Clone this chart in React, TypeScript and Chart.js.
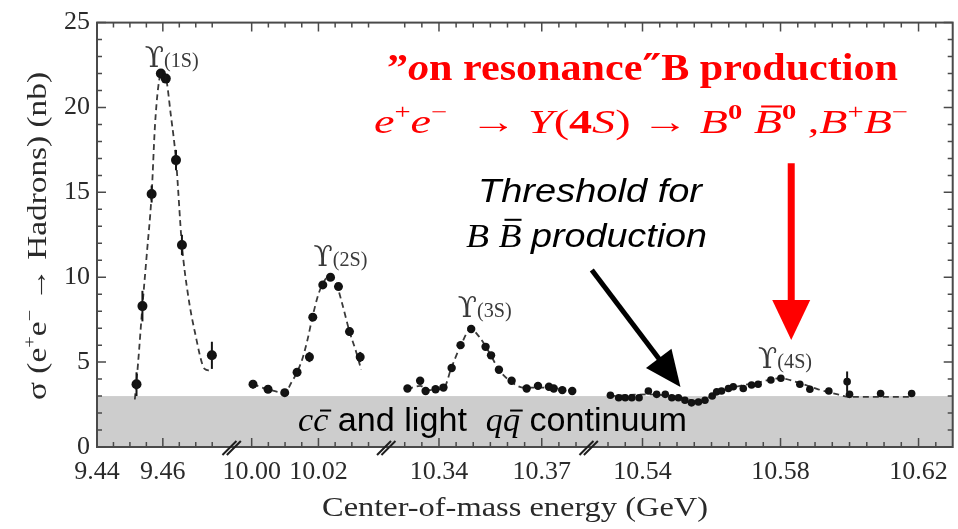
import React, { useEffect, useRef } from "react";
import { Chart, registerables } from "chart.js";

Chart.register(...registerables);

const SERIF = "'Liberation Serif', 'Times New Roman', serif";
const SANS = "'Liberation Sans', Arial, sans-serif";
const DJV = "'DejaVu Serif', serif";

// ---------- broken x axis: four energy windows (GeV) and their relative widths
const SEG_START = [9.44, 9.994, 10.3246, 10.5244];
const SEG_END = [9.4809, 10.0403, 10.3837, 10.6299];
const SEG_WIDTH = [135, 155, 203, 365];
const MINOR_STEP = 0.005;

const X_TICK_VALUES = [9.44, 9.46, 10.0, 10.02, 10.34, 10.37, 10.54, 10.58, 10.62];
const X_TICK_LABELS = ["9.44", "9.46", "10.00", "10.02", "10.34", "10.37", "10.54", "10.58", "10.62"];
const Y_MIN = 0;
const Y_MAX = 25;
const Y_STEP = 5;
const CONTINUUM_LEVEL = 3.0;

// ---------- Υ(1S)
const E_1S = [9.452, 9.4538, 9.4566, 9.4594, 9.4609, 9.464, 9.4658, 9.4749];
const S_1S = [3.7, 8.3, 14.9, 22.0, 21.7, 16.9, 11.9, 5.4];
const ERR_1S = [0.7, 0.9, 0.5, 0.2, 0.2, 0.6, 0.6, 0.8];
const FIT_E_1S = [9.4515, 9.4525, 9.4538, 9.4551, 9.4566, 9.4576, 9.4586, 9.4597, 9.4609, 9.4624, 9.464, 9.4658, 9.4677, 9.4697, 9.4727, 9.4742];
const FIT_S_1S = [2.8, 5.0, 8.3, 11.3, 14.9, 18.9, 21.2, 22.1, 21.8, 19.6, 16.9, 11.9, 8.9, 6.8, 4.6, 4.5];

// ---------- Υ(2S)
const E_2S = [10.0004, 10.0049, 10.0099, 10.0136, 10.0173, 10.0183, 10.0213, 10.0236, 10.026, 10.0293, 10.0325];
const S_2S = [3.7, 3.4, 3.2, 4.4, 5.3, 7.65, 9.55, 10.0, 9.45, 6.8, 5.3];
const ERR_2S = [0.25, 0.15, 0.15, 0.25, 0.3, 0.2, 0.2, 0.15, 0.2, 0.25, 0.3];
const FIT_E_2S = [10.0003, 10.0048, 10.0099, 10.0119, 10.0137, 10.0152, 10.0167, 10.0182, 10.02, 10.0218, 10.0233, 10.0251, 10.0269, 10.0293, 10.0313, 10.0328];
const FIT_S_2S = [3.7, 3.4, 3.2, 3.8, 4.45, 5.2, 6.3, 7.65, 9.0, 9.8, 10.05, 9.75, 8.6, 6.8, 5.6, 4.55];

// ---------- Υ(3S)
const E_3S = [10.3308, 10.3345, 10.3361, 10.339, 10.3413, 10.3437, 10.3463, 10.3494, 10.3536, 10.3552, 10.3575, 10.3612, 10.3656, 10.3689, 10.3721, 10.3735, 10.376, 10.3789];
const S_3S = [3.45, 3.9, 3.3, 3.4, 3.5, 4.65, 6.0, 6.95, 5.9, 5.4, 4.55, 3.9, 3.45, 3.6, 3.55, 3.45, 3.35, 3.3];
const ERR_3S = [0.15, 0.2, 0.15, 0.15, 0.15, 0.15, 0.15, 0.1, 0.15, 0.2, 0.15, 0.15, 0.1, 0.1, 0.1, 0.1, 0.1, 0.1];
const FIT_E_3S = [10.3307, 10.3345, 10.3371, 10.3415, 10.3435, 10.3464, 10.3493, 10.3517, 10.3546, 10.3575, 10.361, 10.3648, 10.3692, 10.3735, 10.3787];
const FIT_S_3S = [3.4, 3.6, 3.35, 3.5, 4.6, 6.0, 6.95, 6.5, 5.6, 4.55, 3.85, 3.5, 3.5, 3.45, 3.3];

// ---------- Υ(4S)
const E_4S = [10.5307, 10.5331, 10.535, 10.5369, 10.539, 10.5417, 10.5441, 10.5466, 10.5485, 10.5504, 10.5523, 10.5542, 10.5562, 10.5581, 10.5602, 10.5615, 10.5629, 10.5649, 10.5663, 10.5692, 10.5716, 10.5735, 10.5772, 10.5801, 10.5856, 10.5885, 10.594, 10.5993, 10.6, 10.609, 10.618];
const S_4S = [3.05, 2.9, 2.9, 2.9, 2.9, 3.3, 3.1, 3.1, 2.9, 2.9, 2.75, 2.6, 2.65, 2.75, 3.0, 3.25, 3.3, 3.45, 3.55, 3.45, 3.65, 3.7, 3.95, 4.05, 3.7, 3.4, 3.3, 3.85, 3.1, 3.15, 3.15];
const ERR_4S = [0.08, 0.08, 0.08, 0.08, 0.08, 0.1, 0.08, 0.08, 0.08, 0.08, 0.1, 0.1, 0.1, 0.1, 0.1, 0.1, 0.1, 0.1, 0.1, 0.1, 0.1, 0.1, 0.1, 0.1, 0.12, 0.12, 0.12, 0.6, 0.12, 0.12, 0.12];
const FIT_E_4S = [10.5305, 10.5417, 10.5504, 10.5562, 10.5605, 10.5663, 10.5735, 10.5799, 10.5851, 10.5909, 10.5966, 10.6001, 10.618];
const FIT_S_4S = [3.0, 3.1, 2.95, 2.7, 3.05, 3.5, 3.8, 4.05, 3.8, 3.4, 3.1, 2.95, 2.95];

// ---------- mapping energy -> compressed axis coordinate
const SEG_OFFSET = SEG_WIDTH.map((_, i) => SEG_WIDTH.slice(0, i).reduce((a, b) => a + b, 0));
const U_MAX = SEG_WIDTH.reduce((a, b) => a + b, 0);
function toUSeg(i: number, e: number) {
  return SEG_OFFSET[i] + ((e - SEG_START[i]) / (SEG_END[i] - SEG_START[i])) * SEG_WIDTH[i];
}
function toU(e: number): number {
  for (let i = 0; i < SEG_START.length; i++) {
    if (e <= SEG_END[i] + 1e-9) return toUSeg(i, Math.max(e, SEG_START[i]));
  }
  return U_MAX;
}

// ---------- rich text helper
type Piece = { t: string; st?: string; fam?: string; sup?: boolean; sc?: number; bar?: number; barShift?: number };
function drawRich(
  ctx: CanvasRenderingContext2D,
  pieces: Piece[],
  size: number,
  x: number,
  baseline: number,
  color: string,
  align: "left" | "center",
  width?: number
) {
  const fontOf = (p: Piece) => {
    const s = size * (p.sup ? 0.62 : 1) * (p.sc || 1);
    return `${p.st || ""} ${s.toFixed(1)}px ${p.fam || SERIF}`.trim();
  };
  const widths = pieces.map((p) => {
    ctx.font = fontOf(p);
    return ctx.measureText(p.t).width;
  });
  const W = widths.reduce((a, b) => a + b, 0);
  const sx = width ? width / W : 1;
  const start = align === "center" ? x - (W * sx) / 2 : x;
  ctx.save();
  ctx.translate(start, baseline);
  ctx.scale(sx, 1);
  ctx.fillStyle = color;
  ctx.strokeStyle = color;
  ctx.textAlign = "left";
  ctx.textBaseline = "alphabetic";
  let cx = 0;
  pieces.forEach((p, i) => {
    ctx.font = fontOf(p);
    const dy = p.sup ? -size * 0.4 : 0;
    ctx.fillText(p.t, cx, dy);
    if (p.bar) {
      const w = widths[i];
      const sh = (p.barShift ?? 0.12) * size;
      ctx.lineWidth = Math.max(1.5, size * 0.06);
      ctx.beginPath();
      ctx.moveTo(cx + w * 0.18 + sh, -size * p.bar);
      ctx.lineTo(cx + w * 0.92 + sh, -size * p.bar);
      ctx.stroke();
    }
    cx += widths[i];
  });
  ctx.restore();
}

// ---------- annotations (data coordinates)
const PEAK_LABELS = [
  { e: 9.4545, s: 22.4, name: "(1S)" },
  { e: 10.0185, s: 10.65, name: "(2S)" },
  { e: 10.3455, s: 7.64, name: "(3S)" },
  { e: 10.5735, s: 4.63, name: "(4S)" },
];

function arrow(ctx: CanvasRenderingContext2D, x0: number, y0: number, x1: number, y1: number, lw: number, headLen: number, headHalf: number, color: string) {
  const dx = x1 - x0;
  const dy = y1 - y0;
  const L = Math.hypot(dx, dy);
  const ux = dx / L;
  const uy = dy / L;
  const bx = x1 - ux * headLen;
  const by = y1 - uy * headLen;
  ctx.save();
  ctx.strokeStyle = color;
  ctx.fillStyle = color;
  ctx.lineWidth = lw;
  ctx.beginPath();
  ctx.moveTo(x0, y0);
  ctx.lineTo(bx + ux * 2, by + uy * 2);
  ctx.stroke();
  ctx.beginPath();
  ctx.moveTo(x1, y1);
  ctx.lineTo(bx - uy * headHalf, by + ux * headHalf);
  ctx.lineTo(bx + uy * headHalf, by - ux * headHalf);
  ctx.closePath();
  ctx.fill();
  ctx.restore();
}

const decor = {
  id: "decor",
  beforeDatasetsDraw(chart: any) {
    const { ctx, chartArea: a, scales } = chart;
    const yt = scales.y.getPixelForValue(CONTINUUM_LEVEL);
    ctx.save();
    ctx.fillStyle = "#cdcdcd";
    ctx.fillRect(a.left, yt, a.right - a.left, a.bottom - yt);
    ctx.restore();
  },
  afterDatasetsDraw(chart: any) {
    const { ctx, scales } = chart;
    const ys = scales.y;
    chart.data.datasets.forEach((ds: any, i: number) => {
      if (!ds.errors) return;
      const meta = chart.getDatasetMeta(i);
      ctx.save();
      ctx.strokeStyle = "#151515";
      ctx.lineWidth = 2;
      meta.data.forEach((pt: any, j: number) => {
        const err = ds.errors[j];
        if (!err) return;
        const v = ds.data[j].y;
        ctx.beginPath();
        ctx.moveTo(pt.x, ys.getPixelForValue(v - err));
        ctx.lineTo(pt.x, ys.getPixelForValue(v + err));
        ctx.stroke();
      });
      ctx.restore();
    });
  },
  afterDraw(chart: any) {
    const { ctx, chartArea: a, scales } = chart;
    const xs = scales.x;
    const ys = scales.y;
    const P = (e: number, s: number) => [xs.getPixelForValue(toU(e)), ys.getPixelForValue(s)];

    // frame
    ctx.save();
    ctx.strokeStyle = "#4a4a4a";
    ctx.lineWidth = 2;
    ctx.strokeRect(a.left, a.top, a.right - a.left, a.bottom - a.top);

    // y ticks (left & right, inward)
    ctx.lineWidth = 1.5;
    for (let v = Y_MIN; v <= Y_MAX; v += 1) {
      const py = ys.getPixelForValue(v);
      const len = v % Y_STEP === 0 ? 9 : 5;
      ctx.beginPath();
      ctx.moveTo(a.left, py);
      ctx.lineTo(a.left + len, py);
      ctx.moveTo(a.right, py);
      ctx.lineTo(a.right - len, py);
      ctx.stroke();
    }
    // x ticks (bottom & top, inward) per segment
    const breaks = SEG_OFFSET.slice(1).map((u) => xs.getPixelForValue(u));
    for (let i = 0; i < SEG_START.length; i++) {
      const k0 = Math.ceil(SEG_START[i] / MINOR_STEP - 1e-6);
      const k1 = Math.floor(SEG_END[i] / MINOR_STEP + 1e-6);
      for (let k = k0; k <= k1; k++) {
        const e = k * MINOR_STEP;
        const px = xs.getPixelForValue(toUSeg(i, e));
        if (breaks.some((b) => Math.abs(b - px) < 5)) continue;
        const major = X_TICK_VALUES.some((t) => Math.abs(t - e) < 1e-6);
        const len = major ? 9 : 5;
        ctx.beginPath();
        ctx.moveTo(px, a.bottom);
        ctx.lineTo(px, a.bottom - len);
        ctx.moveTo(px, a.top);
        ctx.lineTo(px, a.top + len);
        ctx.stroke();
      }
    }
    // axis break marks
    ctx.strokeStyle = "#1e1e1e";
    ctx.lineWidth = 2;
    breaks.forEach((b) => {
      [-2.2, 2.2].forEach((d) => {
        ctx.beginPath();
        ctx.moveTo(b + d - 7, a.bottom + 8);
        ctx.lineTo(b + d + 7, a.bottom - 6);
        ctx.stroke();
      });
    });
    ctx.restore();

    // peak labels
    PEAK_LABELS.forEach((p) => {
      const [px, py] = P(p.e, p.s);
      drawRich(ctx, [{ t: "\u03D2", fam: DJV }, { t: p.name, sc: 0.72 }], 28, px, py, "#3a3a3a", "left");
    });

    // continuum text
    drawRich(
      ctx,
      [
        { t: "c", st: "italic" },
        { t: "c", st: "italic", bar: 0.62 },
        { t: " and light  ", fam: SANS },
        { t: "q", st: "italic" },
        { t: "q", st: "italic", bar: 0.62 },
        { t: " continuum", fam: SANS },
      ],
      33,
      298,
      431,
      "#000",
      "left",
      389
    );

    // red annotation
    const RED = "#ff0000";
    drawRich(
      ctx,
      [
        { t: "\u201D", st: "bold" },
        { t: "o", st: "bold italic" },
        { t: "n resonance", st: "bold" },
        { t: "\u2033", st: "bold", fam: DJV },
        { t: "B production", st: "bold" },
      ],
      38,
      387,
      80,
      RED,
      "left",
      511
    );
    drawRich(
      ctx,
      [
        { t: "e", st: "italic" },
        { t: "+", sup: true },
        { t: "e", st: "italic" },
        { t: "\u2212", sup: true },
        { t: "  \u2192 " },
        { t: "\u03A5", st: "italic" },
        { t: "(" },
        { t: "4", st: "bold" },
        { t: "S", st: "italic" },
        { t: ")" },
        { t: " \u2192 " },
        { t: "B", st: "italic" },
        { t: "0", st: "bold", sup: true },
        { t: " " },
        { t: "B", st: "italic", bar: 0.78, barShift: 0.05 },
        { t: "0", st: "bold", sup: true },
        { t: " ," },
        { t: "B", st: "italic" },
        { t: "+", sup: true },
        { t: "B", st: "italic" },
        { t: "\u2212", sup: true },
      ],
      34,
      374,
      133,
      RED,
      "left",
      534
    );
    {
      const [ax, ayTop] = P(10.5831, 16.72);
      const [, ayTip] = P(10.5831, 6.31);
      arrow(ctx, ax, ayTop, ax, ayTip, 7, 40, 19, RED);
    }

    // threshold annotation
    drawRich(ctx, [{ t: "Threshold for", st: "italic", fam: SANS }], 34, 478, 202, "#000", "left", 224);
    drawRich(
      ctx,
      [
        { t: "B", st: "italic" },
        { t: " " },
        { t: "B", st: "italic", bar: 0.8, barShift: 0.05 },
        { t: " " },
        { t: "production", st: "italic", fam: SANS },
      ],
      34,
      466,
      247,
      "#000",
      "left",
      241
    );
    {
      const [x0, y0] = P(10.5253, 10.42);
      const [x1, y1] = P(10.551, 3.53);
      arrow(ctx, x0, y0, x1, y1, 5, 36, 16, "#000");
    }

    // axis titles
    drawRich(ctx, [{ t: "Center-of-mass energy (GeV)" }], 27, 322, 516, "#2a2a2a", "left", 386);
    ctx.save();
    ctx.translate(46, 236);
    ctx.rotate(-Math.PI / 2);
    drawRich(
      ctx,
      [
        { t: "\u03C3 (" },
        { t: "e" },
        { t: "+", sup: true },
        { t: "e" },
        { t: "\u2212", sup: true },
        { t: " \u2192 Hadrons) (nb)" },
      ],
      27,
      0,
      0,
      "#2a2a2a",
      "center",
      328
    );
    ctx.restore();
  },
};

function pts(es: number[], ss: number[]) {
  return es.map((e, i) => ({ x: toU(e), y: ss[i] }));
}

const GROUPS = [
  { pe: E_1S, ps: S_1S, err: ERR_1S, fe: FIT_E_1S, fs: FIT_S_1S },
  { pe: E_2S, ps: S_2S, err: ERR_2S, fe: FIT_E_2S, fs: FIT_S_2S },
  { pe: E_3S, ps: S_3S, err: ERR_3S, fe: FIT_E_3S, fs: FIT_S_3S },
  { pe: E_4S, ps: S_4S, err: ERR_4S, fe: FIT_E_4S, fs: FIT_S_4S },
];
const POINT_RADIUS = [5, 4.5, 4.2, 3.8];

export default function App() {
  const ref = useRef<HTMLCanvasElement>(null);
  useEffect(() => {
    const datasets: any[] = [];
    GROUPS.forEach((g, i) => {
      datasets.push({
        data: pts(g.fe, g.fs),
        showLine: true,
        borderColor: "#3a3a3a",
        borderWidth: 1.8,
        borderDash: [6, 4],
        pointRadius: 0,
        cubicInterpolationMode: "monotone",
        fill: false,
        order: 2,
      });
      datasets.push({
        data: pts(g.pe, g.ps),
        errors: g.err,
        showLine: false,
        pointRadius: POINT_RADIUS[i],
        backgroundColor: "#121212",
        borderColor: "#121212",
        borderWidth: 0,
        order: 1,
      });
    });
    const chart = new Chart(ref.current as HTMLCanvasElement, {
      type: "scatter",
      data: { datasets },
      options: {
        animation: false,
        responsive: false,
        events: [],
        layout: { padding: { left: 0, right: 3, top: 15, bottom: 0 } },
        plugins: { legend: { display: false }, tooltip: { enabled: false } },
        scales: {
          x: {
            type: "linear",
            min: 0,
            max: U_MAX,
            grid: { display: false, drawTicks: false },
            border: { display: false },
            afterBuildTicks: (s: any) => {
              s.ticks = X_TICK_VALUES.map((v) => ({ value: toU(v) }));
            },
            afterFit: (s: any) => {
              s.height = 82;
            },
            ticks: {
              autoSkip: false,
              maxRotation: 0,
              padding: 10,
              color: "#2a2a2a",
              font: { family: SERIF, size: 26 },
              callback: (_v: any, i: number) => X_TICK_LABELS[i],
            },
          },
          y: {
            type: "linear",
            min: Y_MIN,
            max: Y_MAX,
            grid: { display: false, drawTicks: false },
            border: { display: false },
            afterFit: (s: any) => {
              s.width = 97;
            },
            ticks: {
              stepSize: Y_STEP,
              padding: 7,
              color: "#2a2a2a",
              font: { family: SERIF, size: 26 },
            },
          },
        },
      },
      plugins: [decor],
    } as any);
    return () => chart.destroy();
  }, []);
  return (
    <div style={{ position: "absolute", left: 0, top: 0, width: 958, height: 529, background: "#fff" }}>
      <canvas ref={ref} width={958} height={529} style={{ display: "block", width: 958, height: 529 }} />
    </div>
  );
}
